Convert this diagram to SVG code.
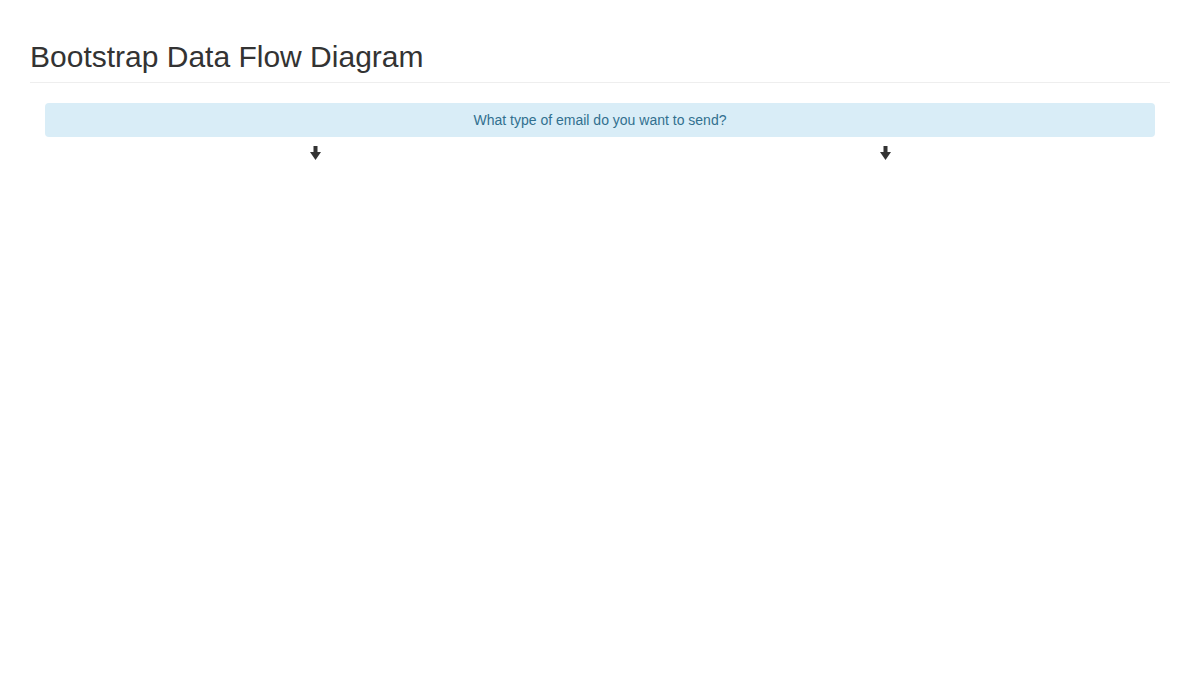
<svg xmlns="http://www.w3.org/2000/svg" width="1200" height="682" viewBox="0 0 1200 682">
<style>
.title{font-family:"Liberation Sans",Arial,sans-serif;font-size:30px;fill:#333333}
.box{fill:#d9edf7}
.lbl{font-family:"Liberation Sans",Arial,sans-serif;font-size:14px;fill:#31708f;text-anchor:middle}
.arrow{fill:#333333}
</style>
<defs>
<path id="dn" d="M-2,-7 H2 V-1 H5.5 L0,7 L-5.5,-1 H-2 Z"/>
</defs>
<rect width="1200" height="682" fill="#ffffff"/>
<text class="title" x="30" y="67">Bootstrap Data Flow Diagram</text>
<line x1="30" y1="82.5" x2="1170" y2="82.5" stroke="#eeeeee" stroke-width="1"/>
<g id="question">
<rect class="box" x="45" y="103" width="1110" height="34" rx="4"/>
<text class="lbl" x="600" y="125">What type of email do you want to send?</text>
</g>
<g id="connectors">
<use href="#dn" class="arrow" x="315.5" y="153"/>
<use href="#dn" class="arrow" x="885.5" y="153"/>
</g>
</svg>
